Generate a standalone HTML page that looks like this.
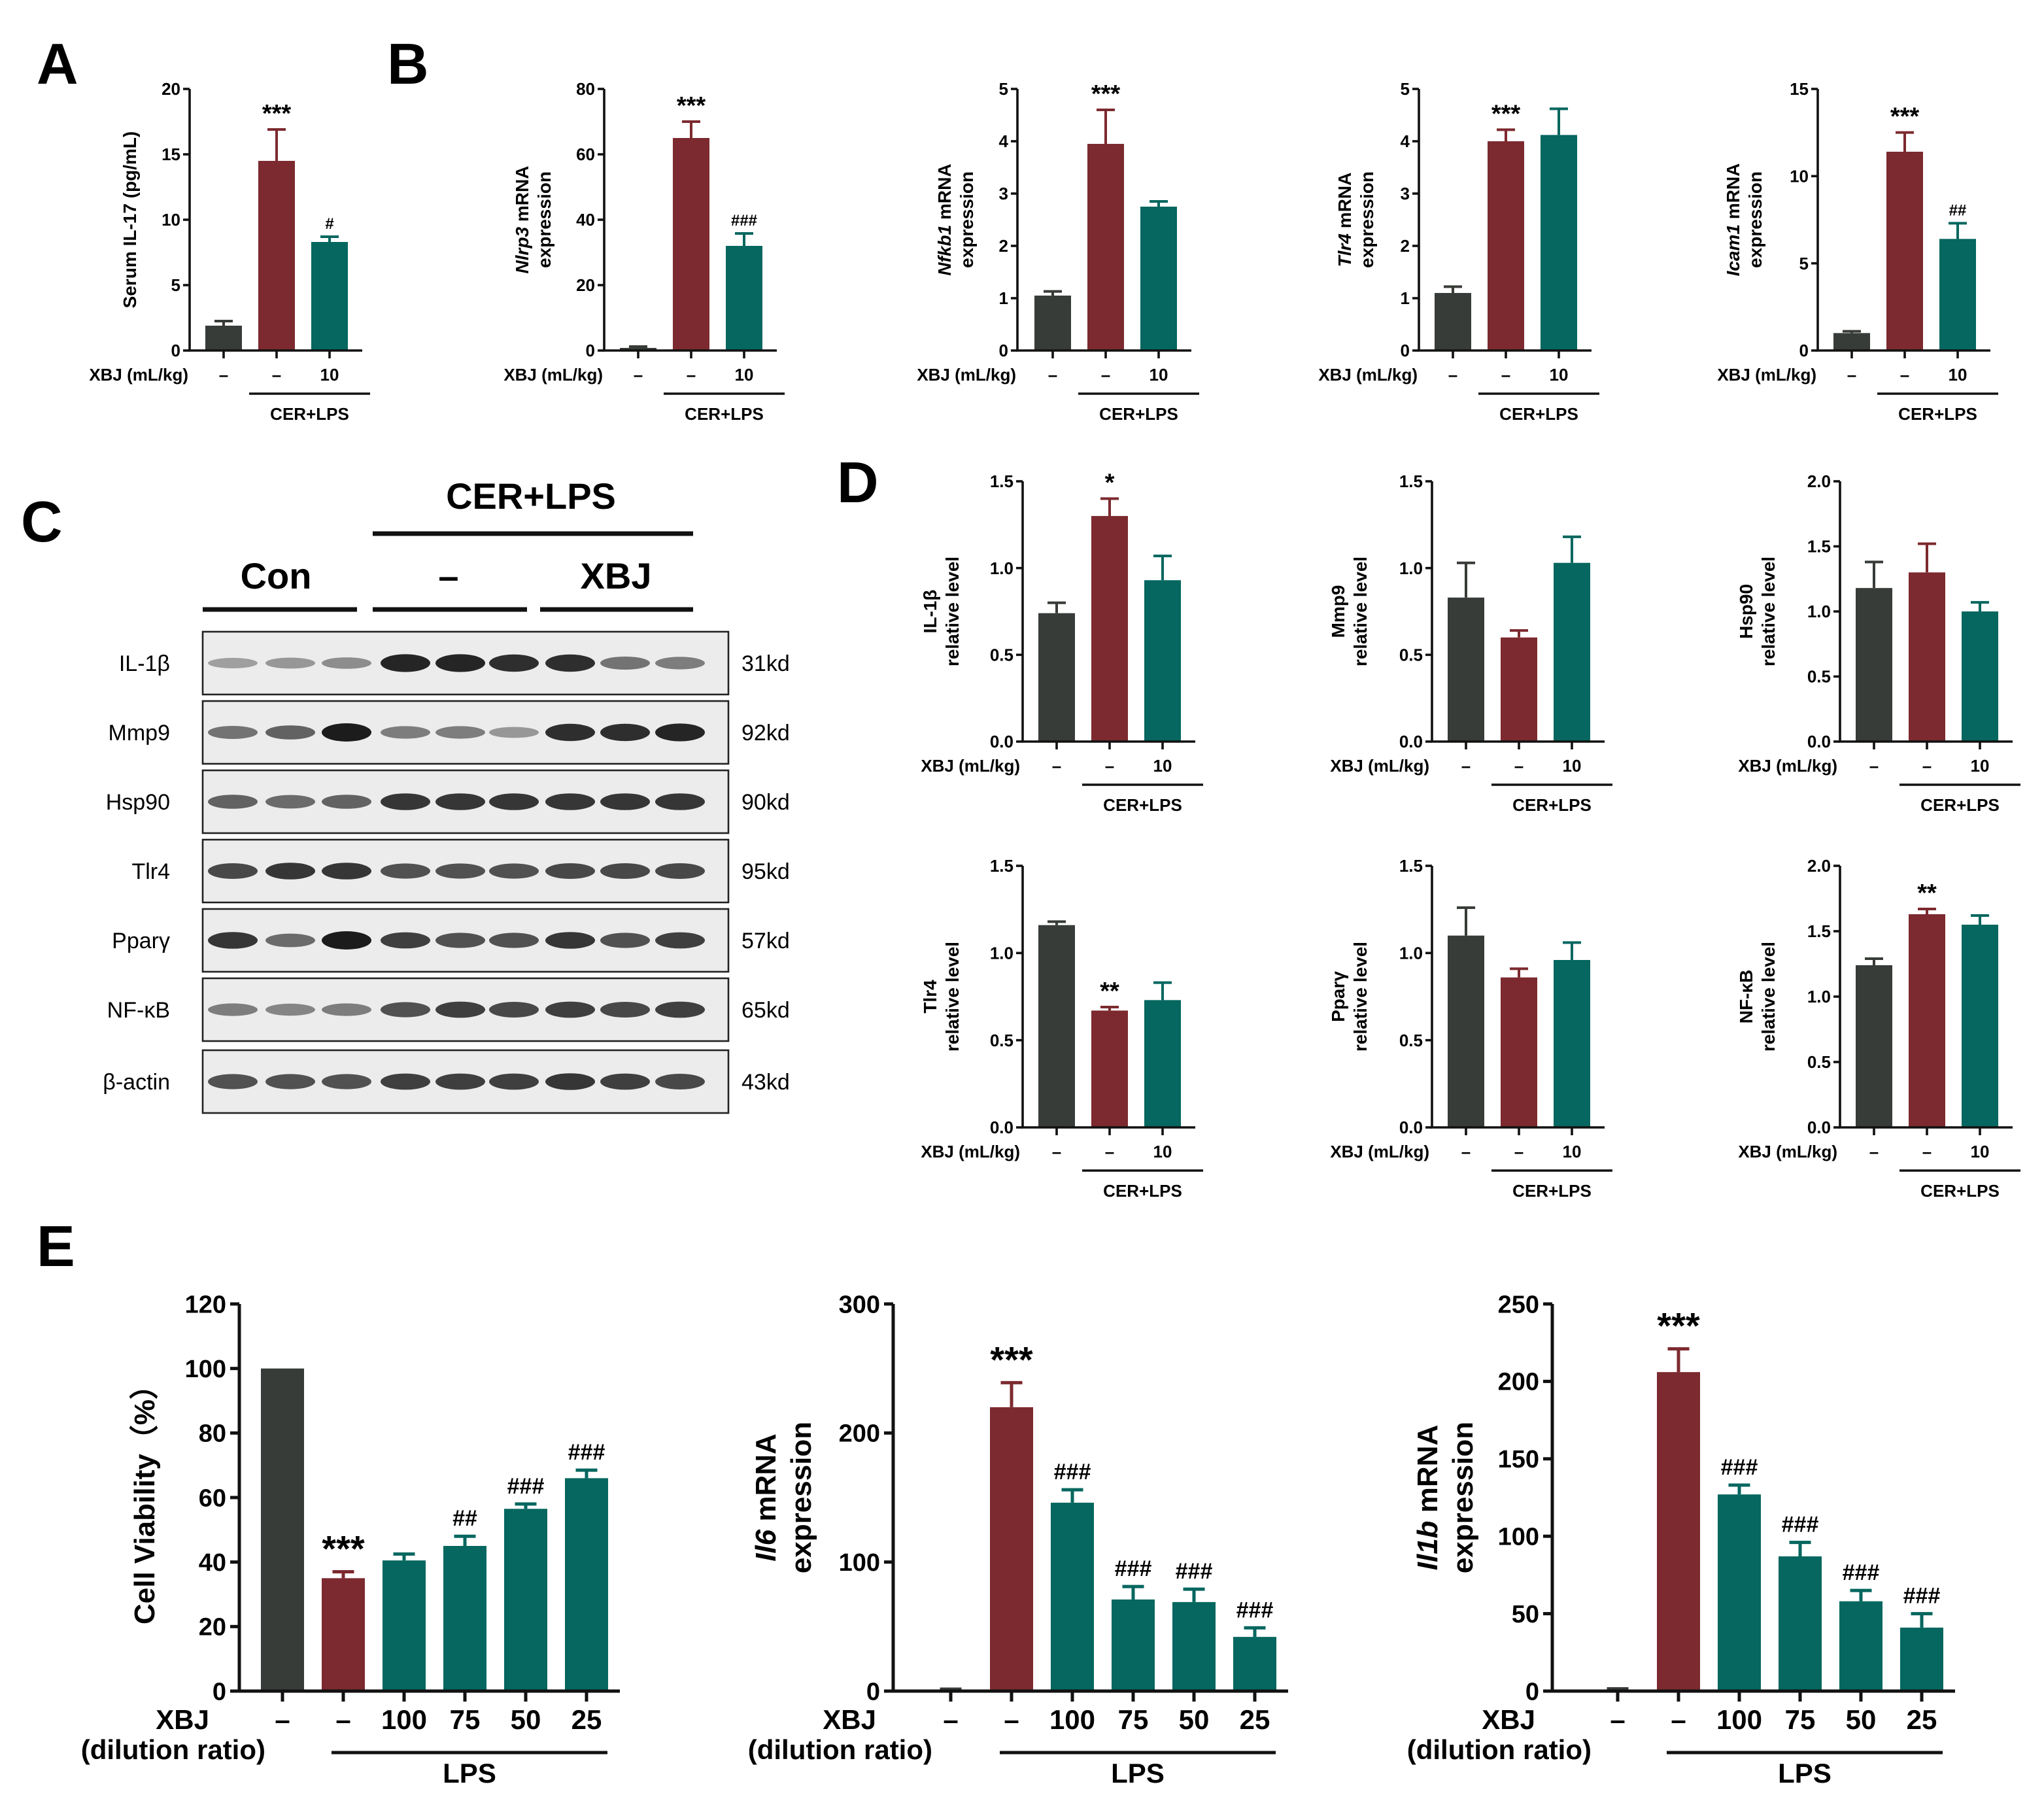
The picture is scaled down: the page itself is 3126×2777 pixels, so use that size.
<!DOCTYPE html>
<html><head><meta charset="utf-8">
<style>
html,body{margin:0;padding:0;background:#fff;}
svg{display:block;font-family:"Liberation Sans",Arial,sans-serif;}
</style></head>
<body>
<svg id="fig" width="3126" height="2777" viewBox="0 0 1563 1388.5" xmlns="http://www.w3.org/2000/svg">
<rect width="1563" height="1389" fill="#fff"/>
<g font-weight="bold" font-size="44">
<text x="28" y="64">A</text>
<text x="296" y="64">B</text>
<text x="16" y="414">C</text>
<text x="640" y="384">D</text>
<text x="28" y="968">E</text>
</g>
</svg>
<script>
// ---- data ----
const groupsABD = ['–','–','10'];
const groupsE = ['–','–','100','75','50','25'];
const aValues = [1.9, 14.5, 8.3];
const aErrors = [0.35, 2.4, 0.4];
const aMarks = ['', '***', '#'];
const nlrp3Values = [0.8, 65, 32];
const nlrp3Errors = [0.4, 5, 3.8];
const nlrp3Marks = ['', '***', '###'];
const nfkb1Values = [1.05, 3.95, 2.75];
const nfkb1Errors = [0.08, 0.65, 0.1];
const nfkb1Marks = ['', '***', ''];
const tlr4mValues = [1.1, 4.0, 4.12];
const tlr4mErrors = [0.12, 0.22, 0.5];
const tlr4mMarks = ['', '***', ''];
const icam1Values = [1.0, 11.4, 6.4];
const icam1Errors = [0.1, 1.1, 0.9];
const icam1Marks = ['', '***', '##'];
const il1bValues = [0.74, 1.3, 0.93];
const il1bErrors = [0.06, 0.1, 0.14];
const il1bMarks = ['', '*', ''];
const mmp9Values = [0.83, 0.6, 1.03];
const mmp9Errors = [0.2, 0.04, 0.15];
const hsp90Values = [1.18, 1.3, 1.0];
const hsp90Errors = [0.2, 0.22, 0.07];
const tlr4pValues = [1.16, 0.67, 0.73];
const tlr4pErrors = [0.02, 0.02, 0.1];
const tlr4pMarks = ['', '**', ''];
const pparValues = [1.1, 0.86, 0.96];
const pparErrors = [0.16, 0.05, 0.1];
const nfkbValues = [1.24, 1.63, 1.55];
const nfkbErrors = [0.05, 0.04, 0.07];
const nfkbMarks = ['', '**', ''];
const noMarks3 = ['', '', ''];
const viabValues = [100, 35, 40.5, 45, 56.5, 66];
const viabErrors = [0, 2, 2, 3, 1.5, 2.5];
const viabMarks = ['', '***', '', '##', '###', '###'];
const il6Values = [1, 220, 146, 71, 69, 42];
const il6Errors = [0.5, 19, 10, 10, 10, 7];
const il6Marks = ['', '***', '###', '###', '###', '###'];
const il1bmValues = [1, 206, 127, 87, 58, 41];
const il1bmErrors = [0.5, 15, 6, 9, 7, 9];
const il1bmMarks = ['', '***', '###', '###', '###', '###'];
const ticks20 = [0,5,10,15,20];
const ticks80 = [0,20,40,60,80];
const ticks5 = [0,1,2,3,4,5];
const ticks15 = [0,5,10,15];
const ticksD15 = ['0.0','0.5','1.0','1.5'];
const ticksD20 = ['0.0','0.5','1.0','1.5','2.0'];
const ticks120 = [0,20,40,60,80,100,120];
const ticks300 = [0,100,200,300];
const ticks250 = [0,50,100,150,200,250];
const blotProteins = ['IL-1β','Mmp9','Hsp90','Tlr4','Pparγ','NF-κB','β-actin'];
const blotSizes = ['31kd','92kd','90kd','95kd','57kd','65kd','43kd'];
const blotIntensity = [
 [.25,.3,.35,.95,.95,.9,.9,.5,.45],
 [.5,.6,1,.45,.45,.3,.9,.9,.95],
 [.6,.55,.6,.85,.85,.85,.85,.85,.85],
 [.75,.85,.85,.7,.7,.7,.75,.75,.75],
 [.85,.55,1,.8,.7,.7,.85,.7,.8],
 [.45,.4,.45,.7,.8,.75,.8,.75,.8],
 [.7,.7,.7,.8,.8,.8,.85,.8,.75]
];
// ---- drawing ----
const NS = 'http://www.w3.org/2000/svg';
const svg = document.getElementById('fig');
const C3 = ['#383c38','#7c2a2f','#05675f'];
const C6 = ['#383c38','#7c2a2f','#05675f','#05675f','#05675f','#05675f'];
function mk(tag, attrs, parent, txt){
  const e = document.createElementNS(NS, tag);
  for (const k in attrs) e.setAttribute(k, attrs[k]);
  if (txt !== undefined) e.textContent = txt;
  (parent || svg).appendChild(e);
  return e;
}
function chart(c){
  const g = mk('g', {});
  
  
  const big = c.big;
  const fs = big ? 19 : 13;
  const sw = big ? 2.5 : 1.8;
  const y = v => c.y0 - v / c.max * (c.y0 - c.y1);
  const n = c.values.length;
  const lastX = c.x0 + (n - 1) * c.dx;
  const xEnd = lastX + c.w / 2 + (big ? 9 : 11);
  for (let i = 0; i < n; i++) {
    const cx = c.x0 + i * c.dx, v = c.values[i], e = c.errors[i];
    const b = mk('rect', {x: cx - c.w/2, y: y(v), width: c.w, height: c.y0 - y(v), fill: c.colors[i]}, g);
    
    
    if (e > 0) {
      const er = mk('path', {d: `M${cx} ${y(v)}V${y(v+e)}M${cx-c.w/4} ${y(v+e)}H${cx+c.w/4}`, stroke: c.colors[i], 'stroke-width': big?2.5:2, fill:'none'}, g);
      
      
    }
    if (c.marks[i]) {
      const m = mk('text', {x: cx, y: y(v+e) - (big?8:6), 'text-anchor':'middle', 'font-size': c.marks[i].indexOf('*')>=0 ? (big?28:19) : (big?17:12), 'font-weight':'bold'}, g, c.marks[i]);
      
      
    }
    const xt = mk('line', {x1: cx, x2: cx, y1: c.y0, y2: c.y0 + (big?8:6), stroke:'#111', 'stroke-width': sw}, g);
    
    
  }
  const ax = mk('path', {d: `M${c.ax} ${c.y1}V${c.y0}H${xEnd}`, stroke:'#111', 'stroke-width': sw, fill:'none'}, g);
  
  
  c.ticks.forEach(t => {
    const tv = parseFloat(t);
    mk('line', {x1: c.ax - (big?7:5), x2: c.ax, y1: y(tv), y2: y(tv), stroke:'#111', 'stroke-width': sw}, g);
    const tl = mk('text', {x: c.ax - (big?10:7), y: y(tv) + fs*0.35, 'text-anchor':'end', 'font-size': fs, 'font-weight': 'bold'}, g, String(t));
    
    
  });
  const yl = mk('text', {transform: `translate(${c.ylx},${(c.y0+c.y1)/2}) rotate(-90)`, 'text-anchor':'middle', 'font-size': big?22:14, 'font-weight': 'bold'}, g);
  
  
  c.ylab.forEach((line, k) => {
    const ts = mk('tspan', {x: 0, dy: k === 0 ? (c.ylab.length>1 ? -(big?13:8) : 0) : (big?27:17)}, yl);
    line.forEach(part => { mk('tspan', part[1] ? {'font-style':'italic'} : {}, ts, part[0]); });
  });
  const ly = c.y0 + (big ? 29 : 23);
  const xl = mk('text', {x: c.xlabX, y: ly, 'text-anchor':'end', 'font-size': big?21:13, 'font-weight':'bold'}, g, 'XBJ' + (big ? '' : ' (mL/kg)'));
  
  
  if (big) {
    const x2 = mk('text', {x: c.xlabX + 43, y: ly + 23, 'text-anchor':'end', 'font-size':21, 'font-weight':'bold'}, g, '(dilution ratio)');
    
    
  }
  c.groups.forEach((gl, i) => {
    const t = mk('text', {x: c.x0 + i*c.dx, y: ly, 'text-anchor':'middle', 'font-size': big?21:13, 'font-weight':'bold'}, g, gl);
    
    
  });
  const bar2 = c.x0 + c.dx;
  const lx1 = big ? bar2 - 9 : bar2 - 21;
  const lx2 = big ? lastX + 16 : lastX + 31;
  const by = ly + (big ? 18 : 10);
  const bl = mk('line', {x1: lx1, x2: lx2, y1: by, y2: by, stroke:'#111', 'stroke-width': sw}, g);
  
  
  const tt = mk('text', {x: (lx1+lx2)/2, y: ly + (big?41:30), 'text-anchor':'middle', 'font-size': big?21:13, 'font-weight':'bold'}, g, big ? 'LPS' : 'CER+LPS');
  
  
}
const small = (o) => Object.assign({w: 28, dx: 40.5, groups: groupsABD, colors: C3, big: false}, o);
chart(small({name:'chart-serum-il17', ax:145, y0:268, y1:68, max:20, ticks:ticks20, x0:171, values:aValues, errors:aErrors, marks:aMarks, ylx:104, ylab:[[['Serum IL-17 (pg/mL)',0]]], xlabX:144}));
chart(small({name:'chart-nlrp3', ax:462, y0:268, y1:68, max:80, ticks:ticks80, x0:488, values:nlrp3Values, errors:nlrp3Errors, marks:nlrp3Marks, ylx:412, ylab:[[['Nlrp3',1],[' mRNA',0]],[['expression',0]]], xlabX:461}));
chart(small({name:'chart-nfkb1', ax:778, y0:268, y1:68, max:5, ticks:ticks5, x0:805, values:nfkb1Values, errors:nfkb1Errors, marks:nfkb1Marks, ylx:735, ylab:[[['Nfkb1',1],[' mRNA',0]],[['expression',0]]], xlabX:777}));
chart(small({name:'chart-tlr4-mrna', ax:1085, y0:268, y1:68, max:5, ticks:ticks5, x0:1111, values:tlr4mValues, errors:tlr4mErrors, marks:tlr4mMarks, ylx:1041, ylab:[[['Tlr4',1],[' mRNA',0]],[['expression',0]]], xlabX:1084}));
chart(small({name:'chart-icam1', ax:1390, y0:268, y1:68, max:15, ticks:ticks15, x0:1416, values:icam1Values, errors:icam1Errors, marks:icam1Marks, ylx:1338, ylab:[[['Icam1',1],[' mRNA',0]],[['expression',0]]], xlabX:1389}));
chart(small({name:'chart-il1b-protein', ax:782, y0:567, y1:368, max:1.5, ticks:ticksD15, x0:808, values:il1bValues, errors:il1bErrors, marks:il1bMarks, ylx:724, ylab:[[['IL-1β',0]],[['relative level',0]]], xlabX:780}));
chart(small({name:'chart-mmp9-protein', ax:1095, y0:567, y1:368, max:1.5, ticks:ticksD15, x0:1121, values:mmp9Values, errors:mmp9Errors, marks:noMarks3, ylx:1036, ylab:[[['Mmp9',0]],[['relative level',0]]], xlabX:1093}));
chart(small({name:'chart-hsp90-protein', ax:1407, y0:567, y1:368, max:2.0, ticks:ticksD20, x0:1433, values:hsp90Values, errors:hsp90Errors, marks:noMarks3, ylx:1348, ylab:[[['Hsp90',0]],[['relative level',0]]], xlabX:1405}));
chart(small({name:'chart-tlr4-protein', ax:782, y0:862, y1:662, max:1.5, ticks:ticksD15, x0:808, values:tlr4pValues, errors:tlr4pErrors, marks:tlr4pMarks, ylx:724, ylab:[[['Tlr4',0]],[['relative level',0]]], xlabX:780}));
chart(small({name:'chart-pparg-protein', ax:1095, y0:862, y1:662, max:1.5, ticks:ticksD15, x0:1121, values:pparValues, errors:pparErrors, marks:noMarks3, ylx:1036, ylab:[[['Pparγ',0]],[['relative level',0]]], xlabX:1093}));
chart(small({name:'chart-nfkb-protein', ax:1407, y0:862, y1:662, max:2.0, ticks:ticksD20, x0:1433, values:nfkbValues, errors:nfkbErrors, marks:nfkbMarks, ylx:1348, ylab:[[['NF-κB',0]],[['relative level',0]]], xlabX:1405}));
const bigc = (o) => Object.assign({w: 33, dx: 46.5, groups: groupsE, colors: C6, big: true}, o);
chart(bigc({name:'chart-cell-viability', ax:183, y0:1293, y1:997, max:120, ticks:ticks120, x0:216, values:viabValues, errors:viabErrors, marks:viabMarks, ylx:118, ylab:[[['Cell Viability（%）',0]]], xlabX:160}));
chart(bigc({name:'chart-il6-mrna', ax:683, y0:1293, y1:997, max:300, ticks:ticks300, x0:727, values:il6Values, errors:il6Errors, marks:il6Marks, ylx:606, ylab:[[['Il6',1],[' mRNA',0]],[['expression',0]]], xlabX:670}));
chart(bigc({name:'chart-il1b-mrna', ax:1187, y0:1293, y1:997, max:250, ticks:ticks250, x0:1237, values:il1bmValues, errors:il1bmErrors, marks:il1bmMarks, ylx:1112, ylab:[[['Il1b',1],[' mRNA',0]],[['expression',0]]], xlabX:1174}));
const wb = mk('g', {});


const hdr = [['CER+LPS',406,389,28],['Con',211,450,28],['–',343,450,28],['XBJ',471,450,28]];
hdr.forEach(h => {
  const t = mk('text', {x:h[1], y:h[2], 'text-anchor':'middle', 'font-size':h[3], 'font-weight':'bold'}, wb, h[0]);
  
  
});
[[285,530,408],[155,273,466],[285,403,466],[413,530,466]].forEach(l => {
  const ln = mk('line', {x1:l[0], x2:l[1], y1:l[2], y2:l[2], stroke:'#111', 'stroke-width':3.5}, wb);
  
  
});
const rowTops = [483,536,589,642,695,748,803];
const lanes = [178,222,265,310,352,393,436,478,520];
blotProteins.forEach((p, r) => {
  const top = rowTops[r];
  const box = mk('rect', {x:155, y:top, width:402, height:48, fill:'#ececec', stroke:'#222', 'stroke-width':1.3}, wb);
  
  
  blotIntensity[r].forEach((v, i) => {
    const b = mk('ellipse', {cx:lanes[i], cy:top+24, rx:19, ry:3 + 4*v, fill:'#111', opacity: 0.15 + 0.8*v}, wb);
    
    
  });
  const pl = mk('text', {x:130, y:top+30, 'text-anchor':'end', 'font-size':17}, wb, p);
  
  
  const kl = mk('text', {x:567, y:top+30, 'font-size':17}, wb, blotSizes[r]);
  
  
});
</script>
</body></html>
